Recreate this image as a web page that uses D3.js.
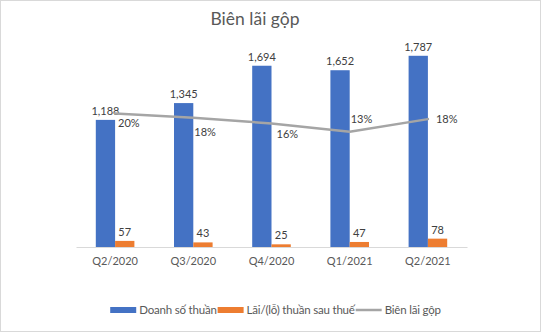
<!DOCTYPE html>
<html><head><meta charset="utf-8">
<script src="https://cdn.jsdelivr.net/npm/d3@7"></script>
<style>html,body{margin:0;padding:0;background:#fff;}svg{display:block;}</style>
</head><body>
<svg id="chart" width="541" height="332"></svg>
<script>
const title = "Biên lãi gộp";
const categories = ["Q2/2020", "Q3/2020", "Q4/2020", "Q1/2021", "Q2/2021"];
const revenue = [1188, 1345, 1694, 1652, 1787];
const profit = [57, 43, 25, 47, 78];
const margin = [0.199, 0.183, 0.162, 0.131, 0.178];
const seriesNames = ["Doanh số thuần", "Lãi/(lỗ) thuần sau thuế", "Biên lãi gộp"];
const colors = ["#4472C4", "#ED7D31", "#A5A5A5"];
// label offsets (layout only) for the margin labels
const pctDx = [3, 1, 5, 1, 8];
const pctDy = [13, 18, 15, -9, 4];

const W = 541, H = 332;
const plot = {left: 76, right: 467, top: 33, bottom: 247};
const font = "Lato, 'Open Sans', sans-serif";
const svg = d3.select("#chart");

svg.append("rect").attr("x", 0.5).attr("y", 0.5).attr("width", W - 1).attr("height", H - 1)
  .attr("fill", "#fff").attr("stroke", "#D9D9D9");

svg.append("text").attr("x", 255).attr("y", 25).attr("text-anchor", "middle")
  .attr("font-family", font).attr("font-size", 17.5).attr("fill", "#595959").text(title);

const x = d3.scaleBand().domain(categories).range([plot.left, plot.right]).paddingInner(0).paddingOuter(0);
const inner = d3.scaleBand().domain([0, 1]).range([x.bandwidth() / 2 - 19.3, x.bandwidth() / 2 + 19.3]);
const y = d3.scaleLinear().domain([0, 2000]).range([plot.bottom, plot.top]);
const y2 = d3.scaleLinear().domain([-0.3, 0.5]).range([plot.bottom, plot.top]);

// x axis
const xAxis = svg.append("g").attr("transform", `translate(0,${plot.bottom})`)
  .call(d3.axisBottom(x).tickSize(0).tickPadding(10));
xAxis.select(".domain").attr("stroke", "#D9D9D9");
xAxis.selectAll("text").attr("font-family", font).attr("font-size", 11).attr("fill", "#595959");

const series = [revenue, profit];
series.forEach((vals, si) => {
  const g = svg.append("g");
  g.selectAll("rect").data(vals).join("rect")
    .attr("x", (d, i) => x(categories[i]) + inner(si))
    .attr("y", d => y(d))
    .attr("width", inner.bandwidth())
    .attr("height", d => y(0) - y(d))
    .attr("fill", colors[si]);
  g.selectAll("text").data(vals).join("text")
    .attr("x", (d, i) => x(categories[i]) + inner(si) + inner.bandwidth() / 2)
    .attr("y", d => y(d) - 5)
    .attr("text-anchor", "middle")
    .attr("font-family", font).attr("font-size", 11).attr("fill", "#404040")
    .text(d => d3.format(",")(d));
});

// line
const line = d3.line().x((d, i) => x(categories[i]) + x.bandwidth() / 2).y(d => y2(d));
svg.append("path").datum(margin).attr("d", line).attr("fill", "none")
  .attr("stroke", colors[2]).attr("stroke-width", 2.5).attr("stroke-linejoin", "round").attr("stroke-linecap", "round");
svg.append("g").selectAll("text").data(margin).join("text")
  .attr("x", (d, i) => x(categories[i]) + x.bandwidth() / 2 + pctDx[i])
  .attr("y", (d, i) => y2(d) + pctDy[i])
  .attr("font-family", font).attr("font-size", 11).attr("fill", "#404040")
  .text(d => d3.format(".0%")(d));

// legend
const leg = svg.append("g");
let cx = 0;
seriesNames.forEach((name, i) => {
  const gi = leg.append("g").attr("transform", `translate(${cx},0)`);
  if (i < 2) gi.append("rect").attr("x", 0).attr("y", -3).attr("width", 26).attr("height", 6).attr("fill", colors[i]);
  else gi.append("line").attr("x1", 0).attr("x2", 26).attr("y1", 0).attr("y2", 0).attr("stroke", colors[i]).attr("stroke-width", 2.5);
  const t = gi.append("text").attr("x", 29).attr("y", 4).attr("font-family", font).attr("font-size", 11.5)
    .attr("fill", "#595959").attr("letter-spacing", -0.2).text(name);
  cx += 29 + t.node().getComputedTextLength() + 1;
});
leg.attr("transform", `translate(${276 - cx / 2},310)`);
</script>
</body></html>
